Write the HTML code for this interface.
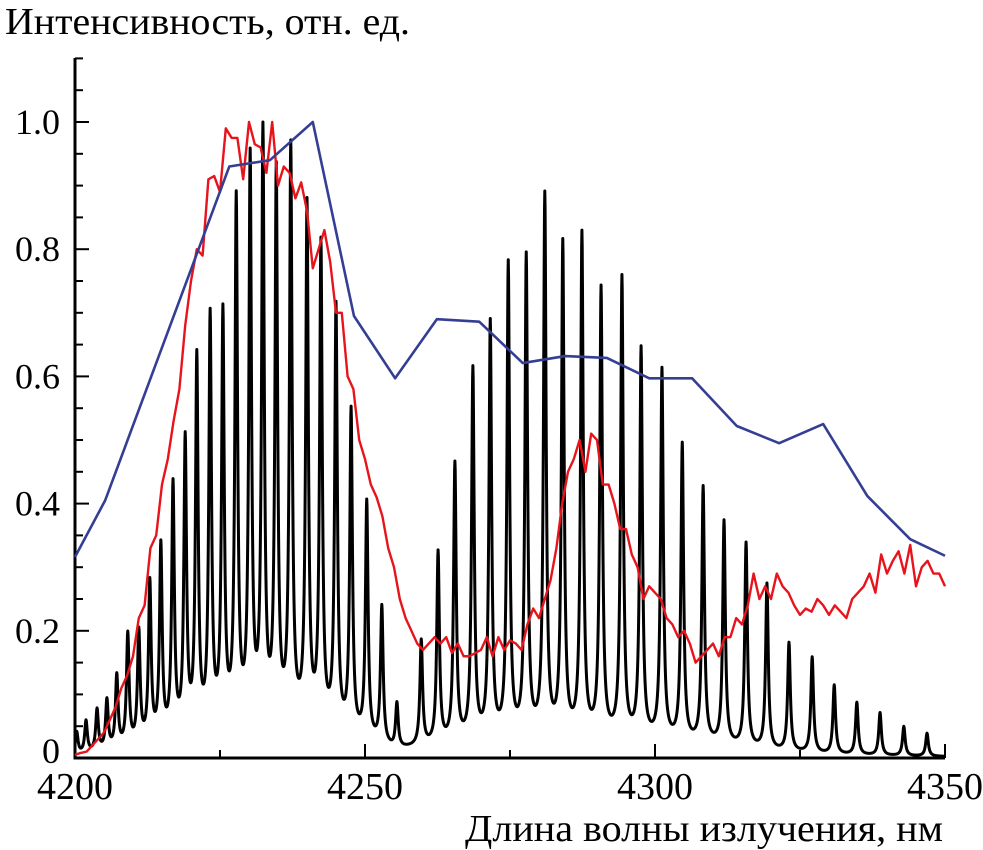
<!DOCTYPE html>
<html><head><meta charset="utf-8"><style>
body{margin:0;background:#fff;}
svg{display:block;}
text{font-family:"Liberation Serif","DejaVu Serif","Noto Serif CJK SC",serif;}
</style></head><body>
<svg id="chart" width="983" height="850">
<text x="5" y="34" font-size="38" textLength="405" lengthAdjust="spacingAndGlyphs">Интенсивность, отн. ед.</text>
<text x="465" y="841" font-size="38" textLength="478" lengthAdjust="spacingAndGlyphs">Длина волны излучения, нм</text>
<g id="axes"></g>
<g id="series"></g>
</svg>
<script>
const xTicks=[4200,4250,4300,4350];
const xTickLabels=["4200","4250","4300","4350"];
const yTicks=[0,0.2,0.4,0.6,0.8,1.0];
const yTickLabels=["0","0.2","0.4","0.6","0.8","1.0"];
// black spectrum: peak wavelengths and heights
const peakNm=[4200.3,4201.9,4203.8,4205.5,4207.2,4209.1,4211.0,4212.9,4214.8,4216.9,4219.0,4221.0,4223.3,4225.5,4227.8,4230.2,4232.4,4234.7,4237.2,4240.0,4242.4,4245.0,4247.6,4250.3,4252.9,4255.5,4259.7,4262.6,4265.5,4268.6,4271.6,4274.7,4277.8,4281.0,4284.1,4287.4,4290.7,4294.3,4297.6,4301.2,4304.7,4308.3,4311.9,4315.7,4319.3,4323.1,4327.1,4330.9,4334.8,4338.8,4342.9,4346.9];
const peakH=[0.035,0.05,0.065,0.077,0.113,0.175,0.175,0.247,0.3,0.39,0.455,0.58,0.64,0.64,0.815,0.875,0.915,0.855,0.895,0.805,0.75,0.66,0.505,0.37,0.215,0.07,0.165,0.3,0.435,0.58,0.65,0.74,0.75,0.845,0.77,0.785,0.7,0.72,0.61,0.58,0.465,0.4,0.35,0.32,0.26,0.17,0.15,0.108,0.082,0.067,0.046,0.036];
const baseNm=[4200,4210,4220,4230,4240,4250,4255,4260,4270,4280,4290,4300,4310,4320,4330,4340,4350];
const baseV=[0.003,0.015,0.035,0.05,0.05,0.025,0.01,0.015,0.025,0.03,0.03,0.025,0.02,0.01,0.005,0.003,0.002];
// blue
const blueNm=[4200,4205.2,4226.6,4233.6,4241.0,4248.1,4255.2,4262.4,4269.7,4277.2,4284.5,4291.7,4299.0,4306.4,4314.1,4321.4,4329.0,4336.6,4344.0,4350];
const blueV=[0.316,0.405,0.93,0.94,1.0,0.695,0.597,0.69,0.686,0.621,0.632,0.629,0.597,0.597,0.522,0.495,0.525,0.412,0.344,0.318];
// red, 4200..4350 step 1
const redStart=4200;
const redV=[0.005,0.008,0.01,0.02,0.03,0.04,0.06,0.08,0.11,0.13,0.16,0.22,0.24,0.33,0.35,0.43,0.47,0.53,0.58,0.68,0.75,0.80,0.79,0.91,0.915,0.89,0.99,0.975,0.975,0.91,1.0,0.965,0.96,0.92,1.0,0.90,0.93,0.92,0.88,0.905,0.86,0.77,0.80,0.83,0.78,0.70,0.70,0.60,0.58,0.50,0.47,0.43,0.41,0.38,0.33,0.30,0.25,0.22,0.20,0.18,0.17,0.18,0.19,0.18,0.19,0.165,0.18,0.16,0.16,0.165,0.17,0.19,0.16,0.19,0.17,0.185,0.18,0.17,0.21,0.235,0.22,0.25,0.28,0.33,0.40,0.45,0.47,0.50,0.45,0.51,0.50,0.43,0.43,0.40,0.36,0.36,0.32,0.30,0.25,0.27,0.26,0.25,0.22,0.21,0.19,0.20,0.18,0.15,0.16,0.17,0.18,0.16,0.19,0.19,0.22,0.21,0.24,0.29,0.25,0.27,0.25,0.29,0.27,0.26,0.24,0.225,0.235,0.23,0.25,0.24,0.225,0.24,0.23,0.22,0.25,0.26,0.27,0.29,0.26,0.32,0.29,0.31,0.325,0.29,0.335,0.27,0.30,0.31,0.29,0.29,0.27];

const X0=75,X1=945,Y0=758,Y1=122;
const sx=v=>X0+(v-4200)/150*(X1-X0);
const sy=v=>Y0-v*(Y0-Y1);
const NS="http://www.w3.org/2000/svg";
function mk(tag,attrs,parent){const e=document.createElementNS(NS,tag);for(const k in attrs)e.setAttribute(k,attrs[k]);parent.appendChild(e);return e;}
const axes=document.getElementById('axes'),series=document.getElementById('series');
let a=mk('line',{x1:X0,y1:58,x2:X0,y2:Y0+1.5,stroke:'#000','stroke-width':3},axes);


a=mk('line',{x1:X0-1.5,y1:Y0,x2:X1,y2:Y0,stroke:'#000','stroke-width':3},axes);


for(let i=0;i<=22;i++){const v=i*0.05;const y=sy(v);const len=(i%4===0)?14:8;
 const t=mk('line',{x1:X0,y1:y,x2:X0+len,y2:y,stroke:'#000','stroke-width':2},axes);
 
 }
yTicks.forEach((v,i)=>{const t=mk('text',{x:60,y:sy(v)+(v===0?5:12),'font-size':36,'text-anchor':'end'},axes);t.textContent=yTickLabels[i];
 
 });
for(let v=4200;v<=4350;v+=25){const x=sx(v);const len=(v%50===0)?14:8;
 const t=mk('line',{x1:x,y1:Y0,x2:x,y2:Y0-len,stroke:'#000','stroke-width':2},axes);
 
 }
xTicks.forEach((v,i)=>{const t=mk('text',{x:sx(v),y:799,'font-size':38,'text-anchor':'middle'},axes);t.textContent=xTickLabels[i];
 
 });
function interp(xs,ys,x){if(x<=xs[0])return ys[0];for(let i=1;i<xs.length;i++){if(x<=xs[i]){const f=(x-xs[i-1])/(xs[i]-xs[i-1]);return ys[i-1]+f*(ys[i]-ys[i-1]);}}return ys[ys.length-1];}
// black
const g=0.27;let d='';
for(let x=4200;x<=4350.001;x+=0.05){let v=interp(baseNm,baseV,x);
 for(let k=0;k<peakNm.length;k++){const u=(x-peakNm[k])/g;v+=peakH[k]/(1+u*u);}
 d+=(d?'L':'M')+sx(x).toFixed(2)+','+sy(Math.min(v,1.05)).toFixed(2);}
let p=mk('path',{d:d,fill:'none',stroke:'#000','stroke-width':3,'stroke-linejoin':'round'},series);


d='';redV.forEach((v,i)=>{d+=(i?'L':'M')+sx(redStart+i).toFixed(2)+','+sy(v).toFixed(2);});
p=mk('path',{d:d,fill:'none',stroke:'#e8141c','stroke-width':2.4,'stroke-linejoin':'round'},series);


d='';blueNm.forEach((n,i)=>{d+=(i?'L':'M')+sx(n).toFixed(2)+','+sy(blueV[i]).toFixed(2);});
p=mk('path',{d:d,fill:'none',stroke:'#343f94','stroke-width':2.6,'stroke-linejoin':'round'},series);


</script>
</body></html>
